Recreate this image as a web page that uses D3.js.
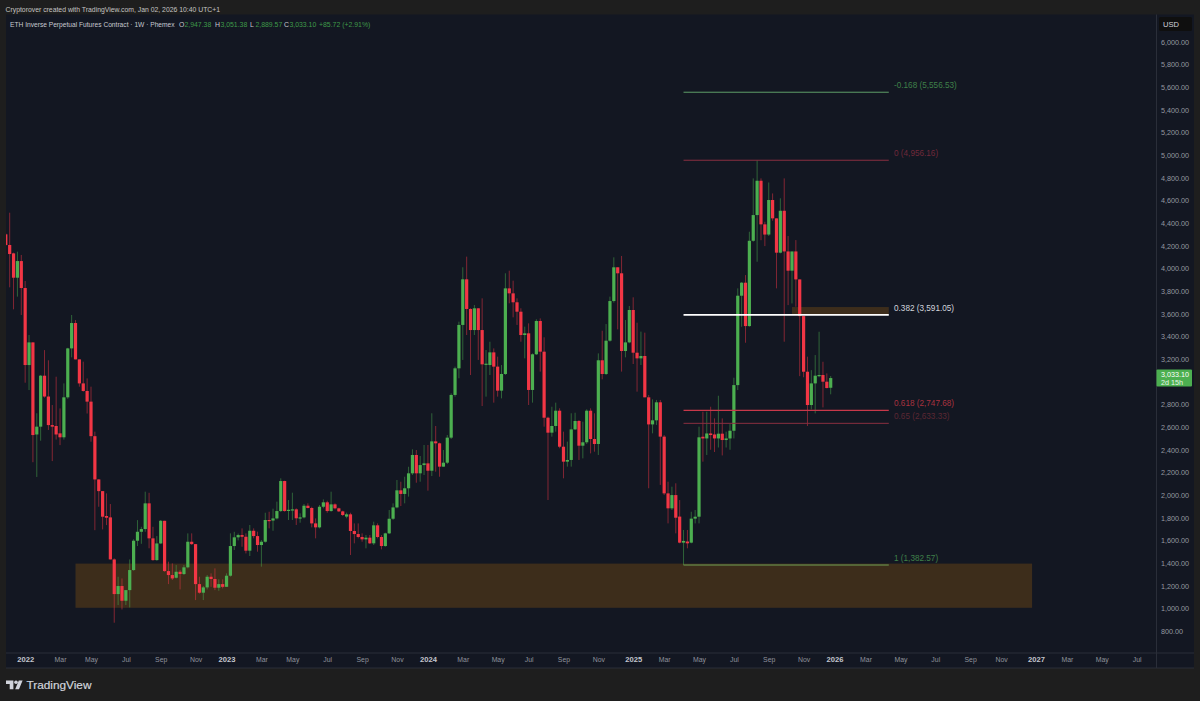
<!DOCTYPE html>
<html>
<head>
<meta charset="utf-8">
<script src="https://cdn.jsdelivr.net/npm/d3@7"></script>
<style>
  html, body { margin: 0; padding: 0; background: #1e1e1e; }
  svg { display: block; }
  text { font-family: "Liberation Sans", Inter, sans-serif; }
</style>
</head>
<body>
<svg id="chart" width="1200" height="701"></svg>
<script>
"use strict";

// Weekly candles
var opens = [
  4302,4208,4134,3919,4066,3828,3148,3348,2535,2604,
  3054,2870,2618,2610,2545,2510,2863,3295,3519,3198,
  2986,2919,2825,2520,2138,2035,1815,1803,1432,1126,
  1197,1067,1161,1338,1597,1676,1700,1927,1618,1426,
  1573,1773,1329,1294,1270,1323,1303,1362,1588,1567,
  1214,1138,1185,1279,1259,1182,1214,1190,1288,1550,
  1627,1647,1632,1509,1685,1638,1559,1588,1780,1775,
  1794,1859,2124,1865,1870,1874,1795,1803,1906,1886,
  1750,1715,1897,1936,1859,1918,1883,1856,1810,1830,
  1683,1656,1630,1609,1624,1574,1733,1630,1550,1662,
  1791,1891,2042,2010,2060,2192,2354,2192,2265,2280,
  2215,2474,2457,2251,2286,2507,2884,3119,3502,3905,
  3643,3457,3649,3457,3154,3148,3260,3134,2922,3069,
  3825,3781,3702,3619,3413,3428,2928,3243,3537,3266,
  2683,2551,2610,2745,2427,2295,2310,2580,2654,2436,
  2466,2745,2495,2451,3190,3069,3363,3713,4011,3958,
  3272,3348,3634,3257,3207,3228,2863,2624,2660,2819,
  2516,2015,1883,2000,1810,1580,1590,1580,1792,1809,
  2515,2500,2544,2535,2500,2542,2486,2500,2568,2971,
  3760,3875,3492,4245,4472,4775,4390,4300,4605,4443,
  4140,4510,4151,3981,4151,3904,3580,3089,2795,2986,
  3054,3060,3001,2947.38
];
var highs = [
  4310,4493,4140,4149,4120,3890,3413,3348,2722,3060,
  3280,3190,2795,3045,2765,2986,3300,3590,3545,3198,
  3178,3030,2957,2560,2140,2035,2015,1921,1441,1279,
  1264,1161,1432,1610,1779,1720,2030,2020,1720,1638,
  1780,1773,1412,1397,1382,1338,1382,1662,1662,1567,
  1279,1197,1294,1309,1353,1256,1256,1309,1662,1676,
  1660,1706,1662,1736,1706,1677,1603,1844,1853,1880,
  1942,2148,2127,1956,2021,1883,1839,1921,1927,1897,
  1794,1912,1962,1950,2030,1927,1889,1862,1845,1844,
  1750,1750,1662,1647,1647,1765,1750,1647,1668,1868,
  1927,2133,2118,2162,2250,2404,2398,2345,2442,2442,
  2722,2610,2463,2398,2530,2898,3134,3531,4011,4105,
  3649,3678,3649,3737,3281,3354,3295,3222,3148,3958,
  3981,3893,3737,3649,3487,3516,3251,3552,3560,3393,
  2692,2780,2816,2766,2560,2472,2722,2727,2663,2648,
  2757,2766,2722,3251,3451,3510,3752,4099,4011,4111,
  3546,3669,3746,3522,3443,3434,2884,2845,2840,2840,
  2530,2118,2074,2104,1956,1692,1692,1853,1868,2604,
  2736,2736,2780,2677,2877,2677,2560,2627,3036,3825,
  3880,3942,4325,4796,4956,4796,4413,4760,4663,4443,
  4620,4796,4287,4148,4251,3904,3580,3222,3103,3236,
  3442,3177,3074,3051.38
];
var lows = [
  4200,3834,3640,3752,3590,2992,2927,2290,2160,2480,
  2860,2575,2300,2490,2441,2490,2850,3216,3198,2957,
  2913,2720,2471,1690,1897,1697,1735,1432,873,1029,
  990,1029,1008,1332,1550,1570,1676,1530,1420,1420,
  1567,1323,1214,1250,1264,1167,1294,1353,1559,1073,
  1130,1073,1167,1190,1161,1155,1176,1190,1280,1515,
  1600,1544,1485,1462,1618,1500,1368,1580,1706,1685,
  1785,1850,1853,1780,1780,1736,1756,1794,1883,1715,
  1618,1706,1883,1844,1853,1874,1850,1815,1795,1471,
  1574,1618,1588,1530,1568,1559,1618,1521,1544,1656,
  1780,1883,1903,1927,1986,2177,2109,2118,2177,2039,
  2168,2207,2162,2251,2274,2495,2869,3031,3193,3413,
  3060,3413,3193,2786,2869,3060,2816,2869,2854,3060,
  3693,3569,3502,3354,3207,2795,2816,3237,3090,2604,
  1956,2516,2560,2413,2148,2251,2251,2575,2310,2324,
  2451,2368,2383,2354,3022,3060,3354,3699,3463,3090,
  3216,3340,3157,2913,3148,2863,2060,2545,2619,2090,
  2000,1750,1868,1662,1574,1382,1530,1574,1750,1750,
  2295,2354,2400,2380,2420,2350,2420,2400,2500,2927,
  3486,3345,3486,4237,4060,4250,4198,4287,4422,3825,
  4134,3354,3677,3692,3663,3050,3040,2610,2756,2721,
  3040,2774,2942,2889.57
];
var closes = [
  4208,4128,3919,4066,3828,3148,3348,2530,2604,3054,
  2870,2618,2604,2535,2510,2863,3295,3519,3198,2986,
  2919,2825,2520,2138,2035,1809,1800,1432,1126,1197,
  1067,1161,1338,1597,1676,1700,1927,1618,1426,1573,
  1773,1329,1294,1264,1323,1303,1362,1588,1567,1214,
  1138,1185,1279,1259,1182,1214,1190,1288,1550,1627,
  1647,1632,1509,1685,1638,1559,1588,1780,1775,1794,
  1859,2124,1859,1870,1874,1795,1803,1906,1886,1750,
  1715,1897,1936,1859,1918,1883,1856,1824,1830,1683,
  1656,1630,1609,1624,1574,1733,1630,1550,1662,1791,
  1891,2042,2010,2060,2192,2354,2192,2265,2280,2215,
  2474,2457,2251,2286,2507,2884,3119,3502,3905,3643,
  3457,3649,3457,3154,3160,3260,3134,2922,3069,3825,
  3781,3702,3619,3413,3428,2928,3243,3537,3266,2683,
  2551,2610,2745,2427,2295,2310,2580,2654,2436,2466,
  2745,2495,2451,3190,3069,3363,3713,4011,3958,3272,
  3348,3634,3257,3207,3228,2863,2624,2660,2819,2516,
  2015,1883,2000,1800,1580,1595,1574,1792,1809,2510,
  2500,2544,2530,2500,2542,2486,2500,2568,2971,3760,
  3875,3492,4245,4472,4775,4390,4300,4605,4443,4140,
  4510,4151,3981,4151,3904,3580,3089,2795,2986,3054,
  3060,3001,2945,3033.10
];

// Axes (3,000.00 sits behind the last price tag)
var priceTicks = [800,1000,1200,1400,1600,1800,2000,2200,2400,2600,2800,3200,3400,
                  3600,3800,4000,4200,4400,4600,4800,5000,5200,5400,5600,5800,6000];
var timeLabels = ["2022","Mar","May","Jul","Sep","Nov","2023","Mar","May","Jul","Sep","Nov",
                  "2024","Mar","May","Jul","Sep","Nov","2025","Mar","May","Jul","Sep","Nov",
                  "2026","Mar","May","Jul","Sep","Nov","2027","Mar","May","Jul"];
var timeWeeks = [5,14,22,31,40,49,57,66,74,83,92,101,
                 109,118,127,135,144,153,162,170,179,188,197,206,
                 214,222,231,240,249,257,266,274,283,292];

// Fib levels
var fibRatios = ["-0.168","0","0.382","0.618","0.65","1"];
var fibPrices = [5556.53,4956.16,3591.05,2747.68,2633.33,1382.57];
var fibLineColours = ["#5f9f68","#8a2f40","#ffffff","#c8384a","#8a2f40","#6f9f55"];
var fibTextColours = ["#3f8049","#70293a","#d1d4dc","#a8323f","#5c2733","#3f8049"];
var fibWidths = [1,1,1.6,1.2,1,1];
var fibFromWeek = 175, fibToWeek = 228;

// Zones
var zoneTops = [1395,3660];
var zoneBottoms = [1005,3595];
var zoneFrom = [18,203];
var zoneTo = [265,228];

var width = 1200, height = 701;
var plot = {left: 6, right: 1156.5, top: 14.5, bottom: 653};
var up = "#4caf50", down = "#f23645";
var fmt = d3.format(",.2f");

var svg = d3.select("#chart");
var x = d3.scaleLinear().domain([0, 213]).range([5.8, 830.7]);
var y = d3.scaleLinear().domain([800, 6000]).range([631, 42]);

// Panels
svg.append("rect").attr("width", width).attr("height", height).attr("fill", "#1e1e1e");
svg.append("rect").attr("x", plot.left).attr("y", plot.top)
   .attr("width", 1194 - plot.left).attr("height", 668 - plot.top).attr("fill", "#131722");
svg.append("defs").append("clipPath").attr("id", "plot-clip").append("rect")
   .attr("x", plot.left).attr("y", plot.top)
   .attr("width", plot.right - plot.left).attr("height", plot.bottom - plot.top);
var main = svg.append("g").attr("clip-path", "url(#plot-clip)");

// Zones go under the candles
main.selectAll("rect.zone").data(zoneTops).join("rect")
    .attr("class", "zone")
    .attr("x", function(d, i) { return x(zoneFrom[i]); })
    .attr("width", function(d, i) { return x(zoneTo[i]) - x(zoneFrom[i]); })
    .attr("y", function(d) { return y(d); })
    .attr("height", function(d, i) { return y(zoneBottoms[i]) - y(d); })
    .attr("fill", "#ff9800")
    .attr("fill-opacity", 0.18);

// Candles
var candles = main.selectAll("g.candle").data(opens).join("g").attr("class", "candle");
candles.append("line")
    .attr("x1", function(d, i) { return x(i); })
    .attr("x2", function(d, i) { return x(i); })
    .attr("y1", function(d, i) { return y(highs[i]); })
    .attr("y2", function(d, i) { return y(lows[i]); })
    .attr("stroke", function(d, i) { return closes[i] >= d ? up : down; })
    .attr("stroke-opacity", 0.5)
    .attr("stroke-width", 1);
candles.append("rect")
    .attr("x", function(d, i) { return x(i) - 1.6; })
    .attr("width", 3.2)
    .attr("y", function(d, i) { return y(Math.max(d, closes[i])); })
    .attr("height", function(d, i) { return Math.max(1.2, Math.abs(y(d) - y(closes[i]))); })
    .attr("fill", function(d, i) { return closes[i] >= d ? up : down; });

// Fib lines and labels
main.selectAll("line.fib").data(fibPrices).join("line")
    .attr("class", "fib")
    .attr("x1", x(fibFromWeek)).attr("x2", x(fibToWeek))
    .attr("y1", function(d) { return y(d); }).attr("y2", function(d) { return y(d); })
    .attr("stroke", function(d, i) { return fibLineColours[i]; })
    .attr("stroke-width", function(d, i) { return fibWidths[i]; });
main.selectAll("text.fib-label").data(fibPrices).join("text")
    .attr("class", "fib-label")
    .attr("x", 894)
    .attr("y", function(d) { return y(d) - 4; })
    .attr("font-size", 8.2)
    .attr("fill", function(d, i) { return fibTextColours[i]; })
    .text(function(d, i) { return fibRatios[i] + " (" + fmt(d) + ")"; });

// Price axis
var priceAxis = svg.append("g").attr("transform", "translate(" + plot.right + ",0)")
    .call(d3.axisRight(y).tickValues(priceTicks).tickFormat(fmt).tickSize(0).tickPadding(4.5));
priceAxis.select(".domain").remove();
priceAxis.selectAll("text").attr("fill", "#9598a1").attr("font-size", 7.2)
    .style("font-family", "'Liberation Sans', sans-serif");

// Time axis, bars are weeks so the week number places each label
var timeAxis = svg.append("g").attr("transform", "translate(0," + plot.bottom + ")")
    .call(d3.axisBottom(x).tickValues(timeWeeks)
      .tickFormat(function(d, i) { return timeLabels[i]; }).tickSize(0).tickPadding(4));
timeAxis.select(".domain").remove();
timeAxis.selectAll("text")
    .attr("fill", function(d, i) { return /^20/.test(timeLabels[i]) ? "#c3c6ce" : "#8f929b"; })
    .attr("font-weight", function(d, i) { return /^20/.test(timeLabels[i]) ? 700 : 400; })
    .attr("font-size", function(d, i) { return /^20/.test(timeLabels[i]) ? 7.6 : 6.9; })
    .style("font-family", "'Liberation Sans', sans-serif");

// Frame lines
[[plot.right, plot.top, plot.right, 668], [plot.left, plot.bottom, 1194, plot.bottom], [plot.left, 668, 1194, 668]].forEach(function(l) {
  svg.append("line").attr("x1", l[0]).attr("y1", l[1]).attr("x2", l[2]).attr("y2", l[3]).attr("stroke", "#2a2e39");
});

// Last price tag
var lastClose = closes[closes.length - 1];
svg.append("rect").attr("x", plot.right).attr("y", y(lastClose) - 8.5)
   .attr("width", 35.5).attr("height", 17).attr("rx", 1).attr("fill", up);
svg.append("text").attr("x", 1161).attr("y", y(lastClose) - 1.2).attr("font-size", 7.2).attr("fill", "#ffffff").text(fmt(lastClose));
svg.append("text").attr("x", 1161).attr("y", y(lastClose) + 6.6).attr("font-size", 7.2).attr("fill", "#e8f5e9").text("2d 15h");

// Currency button
svg.append("rect").attr("x", 1159).attr("y", 17).attr("width", 33).attr("height", 14).attr("rx", 1.5).attr("fill", "#0f0f0f");
svg.append("text").attr("x", 1163).attr("y", 26.7).attr("font-size", 7.6).attr("fill", "#d1d4dc").text("USD");

// Header and legend
svg.append("text").attr("x", 5.5).attr("y", 11.6).attr("font-size", 6.85).attr("fill", "#c4c4c4")
   .text("Cryptorover created with TradingView.com, Jan 02, 2026 10:40 UTC+1");
svg.append("text").attr("x", 10).attr("y", 26.6).attr("font-size", 6.65).attr("fill", "#c8cad0")
   .text("ETH Inverse Perpetual Futures Contract · 1W · Phemex");

var legendKeys = ["O", "H", "L", "C"];
var legendValues = [opens, highs, lows, closes].map(function(a) { return a[a.length - 1]; });
var legendX = [179, 215, 250, 284];
legendKeys.forEach(function(k, i) {
  svg.append("text").attr("x", legendX[i]).attr("y", 26.6).attr("font-size", 6.9).attr("fill", "#c8cad0").text(k);
  svg.append("text").attr("x", legendX[i] + 5.4).attr("y", 26.6).attr("font-size", 6.9).attr("fill", "#3f9a49").text(fmt(legendValues[i]));
});
svg.append("text").attr("x", 319).attr("y", 26.6).attr("font-size", 6.9).attr("fill", "#3f9a49").text("+85.72 (+2.91%)");

// Footer logo
var logo = svg.append("g").attr("transform", "translate(6,680.5)").attr("fill", "#d1d4dc");
logo.append("path").attr("d", "M0 0H7.4V8.8H3.7V3.6H0Z");
logo.append("circle").attr("cx", 10).attr("cy", 1.8).attr("r", 1.8);
logo.append("path").attr("d", "M12.8 0H16.6L13 8.8H9.2Z");
svg.append("text").attr("x", 26.5).attr("y", 689.4).attr("font-size", 11.8)
   .attr("fill", "#d1d4dc").attr("stroke", "#d1d4dc").attr("stroke-width", 0.2).text("TradingView");
</script>
</body>
</html>
